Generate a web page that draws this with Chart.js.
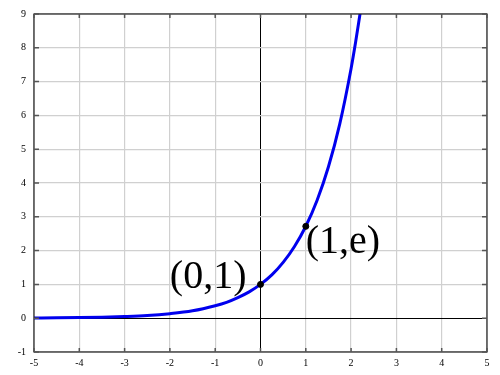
<!DOCTYPE html>
<html lang="en">
<head>
    <meta charset="UTF-8">
    <title>y = e^x</title>
    <script src="https://cdn.jsdelivr.net/npm/chart.js"></script>
    <style>
        body { margin: 0; background: #ffffff; }
        #wrap { width: 500px; height: 375px; }
    </style>
</head>
<body>
    <div id="wrap"><canvas id="expChart" width="500" height="375"></canvas></div>

    <script>
        // values
        let xValues = [-5, -4.5, -4, -3.5, -3, -2.5, -2, -1.5, -1, -0.75, -0.5, -0.25, 0, 0.25, 0.5, 0.75, 1, 1.25, 1.5, 1.75, 2, 2.1, 2.2];
        let yValues = [0.007, 0.011, 0.018, 0.03, 0.05, 0.08, 0.135, 0.22, 0.37, 0.47, 0.61, 0.78, 1, 1.28, 1.65, 2.12, 2.72, 3.49, 4.48, 5.75, 7.39, 8.17, 9.03];

        // marked points and their labels
        let markX = [0, 1];
        let markY = [1, 2.718];
        let markLabels = ["(0,1)", "(1,e)"];

        let xTicks = [-5, -4, -3, -2, -1, 0, 1, 2, 3, 4, 5];
        let yTicks = [-1, 0, 1, 2, 3, 4, 5, 6, 7, 8, 9];

        let curve = xValues.map((x, i) => ({ x: x, y: yValues[i] }));
        let marks = markX.map((x, i) => ({ x: x, y: markY[i] }));

        // frame, small inner ticks and the point labels
        const framePlugin = {
            id: "frame",
            afterDatasetsDraw(chart) {
                const ctx = chart.ctx;
                const a = chart.chartArea;
                const xs = chart.scales.x, ys = chart.scales.y;
                ctx.save();
                ctx.strokeStyle = "#222";
                ctx.lineWidth = 1.2;
                ctx.strokeRect(a.left, a.top, a.right - a.left, a.bottom - a.top);
                ctx.strokeStyle = "#555";
                ctx.lineWidth = 1.5;
                ctx.beginPath();
                xTicks.forEach(v => {
                    let px = xs.getPixelForValue(v);
                    ctx.moveTo(px, a.bottom); ctx.lineTo(px, a.bottom - 4);
                    ctx.moveTo(px, a.top); ctx.lineTo(px, a.top + 4);
                });
                yTicks.forEach(v => {
                    let py = ys.getPixelForValue(v);
                    ctx.moveTo(a.left, py); ctx.lineTo(a.left + 5, py);
                    ctx.moveTo(a.right, py); ctx.lineTo(a.right - 5, py);
                });
                ctx.stroke();

                ctx.fillStyle = "#000";
                ctx.font = "40px 'Liberation Serif', 'DejaVu Serif', serif";
                let p0x = xs.getPixelForValue(markX[0]), p0y = ys.getPixelForValue(markY[0]);
                ctx.textAlign = "right";
                ctx.textBaseline = "alphabetic";
                ctx.fillText(markLabels[0], p0x - 14, p0y + 4);
                let p1x = xs.getPixelForValue(markX[1]), p1y = ys.getPixelForValue(markY[1]);
                ctx.textAlign = "left";
                ctx.fillText(markLabels[1], p1x, p1y + 27);
                ctx.restore();
            }
        };

        let ctx = document.getElementById("expChart").getContext("2d");
        new Chart(ctx, {
            type: "scatter",
            data: {
                datasets: [
                    {
                        data: marks,
                        showLine: false,
                        pointRadius: 3,
                        pointBackgroundColor: "#000",
                        pointBorderColor: "#000",
                        order: 0
                    },
                    {
                        data: curve,
                        showLine: true,
                        borderColor: "#0000ee",
                        borderWidth: 3,
                        pointRadius: 0,
                        cubicInterpolationMode: "monotone",
                        order: 1
                    }
                ]
            },
            options: {
                responsive: false,
                animation: false,
                plugins: { legend: { display: false }, tooltip: { enabled: false } },
                layout: { padding: { top: 10, right: 13, left: 0, bottom: 0 } },
                scales: {
                    x: {
                        type: "linear",
                        min: -5, max: 5,
                        afterBuildTicks: s => { s.ticks = xTicks.map(v => ({ value: v })); },
                        afterFit: s => { s.height = 23; },
                        border: { display: false },
                        grid: {
                            drawTicks: false,
                            color: c => c.tick && c.tick.value === 0 ? "#000" : "#d0d0d0",
                            lineWidth: c => c.tick && c.tick.value === 0 ? 1 : 1.2
                        },
                        ticks: {
                            padding: 5,
                            color: "#000",
                            font: { family: "'Liberation Serif', serif", size: 10 },
                            maxRotation: 0
                        }
                    },
                    y: {
                        type: "linear",
                        min: -1, max: 9,
                        afterBuildTicks: s => { s.ticks = yTicks.map(v => ({ value: v })); },
                        afterFit: s => { s.width = 34; },
                        border: { display: false },
                        grid: {
                            drawTicks: false,
                            color: c => c.tick && c.tick.value === 0 ? "#000" : "#d0d0d0",
                            lineWidth: c => c.tick && c.tick.value === 0 ? 1 : 1.2
                        },
                        ticks: {
                            padding: 8,
                            color: "#000",
                            font: { family: "'Liberation Serif', serif", size: 10 }
                        }
                    }
                }
            },
            plugins: [framePlugin]
        });
    </script>
</body>
</html>
